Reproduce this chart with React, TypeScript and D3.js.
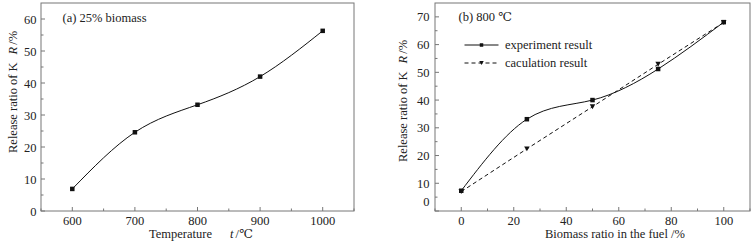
import React from "react";
import * as d3 from "d3";

const tempCategories = [600, 700, 800, 900, 1000];
const tempRelease = [6.9, 24.6, 33.2, 42.0, 56.3];

const ratioCategories = [0, 25, 50, 75, 100];
const experimentRelease = [7.3, 33.1, 40.0, 51.2, 68.1];
const calculationRelease = [7.0, 22.4, 37.6, 52.9, 68.0];

const leftXTicks = [600, 700, 800, 900, 1000];
const leftYTicks = [0, 10, 20, 30, 40, 50, 60];
const rightXTicks = [0, 20, 40, 60, 80, 100];
const rightYTicks = [0, 10, 20, 30, 40, 50, 60, 70];

const FONT = "Liberation Serif, Times New Roman, DejaVu Serif, serif";
const FS = 12.5;
const FRAME = "#777";
const TXT = "#222";

type Pt = [number, number];

function Square({ x, y, s = 4.5 }: { x: number; y: number; s?: number }) {
  return <rect x={x - s / 2} y={y - s / 2} width={s} height={s} fill="#111" />;
}
function TriDown({ x, y, s = 5.5 }: { x: number; y: number; s?: number }) {
  const h = s * 0.9;
  return (
    <path
      d={`M${x - s / 2},${y - h / 2}L${x + s / 2},${y - h / 2}L${x},${y + h / 2}Z`}
      fill="#111"
    />
  );
}

function Frame({
  x0, x1, y0, y1,
}: { x0: number; x1: number; y0: number; y1: number }) {
  return (
    <rect x={x0} y={y0} width={x1 - x0} height={y1 - y0} fill="none" stroke={FRAME} strokeWidth={1} />
  );
}

export default function App() {
  // Left panel
  const L = { x0: 41, x1: 354, y0: 3, y1: 211 };
  const lx = d3.scaleLinear().domain([550, 1050]).range([L.x0, L.x1]);
  const ly = d3.scaleLinear().domain([0, 65]).range([L.y1, L.y0]);
  const lMinorX = d3.range(550, 1051, 50).filter((v) => v % 100 !== 0);
  const lMinorY = d3.range(5, 65, 10);

  const natural = d3.line<Pt>().x((d) => d[0]).y((d) => d[1]).curve(d3.curveNatural);
  const linear = d3.line<Pt>().x((d) => d[0]).y((d) => d[1]);

  const leftPts: Pt[] = tempCategories.map((c, i) => [lx(c), ly(tempRelease[i])]);

  // Right panel
  const R = { x0: 435, x1: 750, y0: 3, y1: 211 };
  const rx = d3.scaleLinear().domain([-10, 110]).range([R.x0, R.x1]);
  const ry = d3.scaleLinear().domain([0, 75]).range([R.y1, R.y0]);
  const rMinorX = d3.range(-10, 111, 20);
  const rMinorY = d3.range(5, 75, 10);

  const expPts: Pt[] = ratioCategories.map((c, i) => [rx(c), ry(experimentRelease[i])]);
  const calPts: Pt[] = ratioCategories.map((c, i) => [rx(c), ry(calculationRelease[i])]);

  const tickLen = 4;
  const minorLen = 2.5;

  return (
    <svg width={756} height={244}
      style={{ position: "absolute", left: 0, top: 0, background: "#fff", fontFamily: FONT, fontSize: FS }}>
      {/* LEFT PANEL */}
      <Frame {...L} />
      {leftXTicks.map((t) => (
        <g key={"lxt" + t}>
          <line x1={lx(t)} x2={lx(t)} y1={L.y1} y2={L.y1 - tickLen} stroke={FRAME} />
          <text x={lx(t)} y={224.5} textAnchor="middle" fill={TXT}>{t}</text>
        </g>
      ))}
      {lMinorX.map((t) => (
        <line key={"lmx" + t} x1={lx(t)} x2={lx(t)} y1={L.y1} y2={L.y1 - minorLen} stroke={FRAME} />
      ))}
      {leftYTicks.map((t) => (
        <g key={"lyt" + t}>
          <line x1={L.x0} x2={L.x0 + tickLen} y1={ly(t)} y2={ly(t)} stroke={FRAME} />
          <text x={36.5} y={ly(t)} dy="0.36em" textAnchor="end" fill={TXT}>{t}</text>
        </g>
      ))}
      {lMinorY.map((t) => (
        <line key={"lmy" + t} x1={L.x0} x2={L.x0 + minorLen} y1={ly(t)} y2={ly(t)} stroke={FRAME} />
      ))}
      <path d={natural(leftPts) || ""} fill="none" stroke="#111" strokeWidth={1} />
      {leftPts.map((p, i) => <Square key={"ls" + i} x={p[0]} y={p[1]} />)}
      <text x={62.5} y={21.5} fill={TXT}>(a) 25% biomass</text>
      <text x={149} y={238} fill={TXT}>
        Temperature
        <tspan dx={18} fontStyle="italic">t</tspan>
        <tspan dx={2}>/℃</tspan>
      </text>
      <text transform={`translate(16.5,153) rotate(-90)`} fill={TXT}>
        Release ratio of K
        <tspan dx={8} fontStyle="italic">R</tspan>
        <tspan dx={2}>/%</tspan>
      </text>

      {/* RIGHT PANEL */}
      <Frame {...R} />
      {rightXTicks.map((t) => (
        <g key={"rxt" + t}>
          <line x1={rx(t)} x2={rx(t)} y1={R.y1} y2={R.y1 - tickLen} stroke={FRAME} />
          <text x={rx(t)} y={224.5} textAnchor="middle" fill={TXT}>{t}</text>
        </g>
      ))}
      {rMinorX.map((t) => (
        <line key={"rmx" + t} x1={rx(t)} x2={rx(t)} y1={R.y1} y2={R.y1 - minorLen} stroke={FRAME} />
      ))}
      {rightYTicks.map((t) => (
        <g key={"ryt" + t}>
          <line x1={R.x0} x2={R.x0 + tickLen} y1={ry(t)} y2={ry(t)} stroke={FRAME} />
          <text x={429.5} y={t === 0 ? ry(t) - 9.5 : ry(t)} dy="0.36em" textAnchor="end" fill={TXT}>{t}</text>
        </g>
      ))}
      {rMinorY.map((t) => (
        <line key={"rmy" + t} x1={R.x0} x2={R.x0 + minorLen} y1={ry(t)} y2={ry(t)} stroke={FRAME} />
      ))}
      <path d={linear(calPts) || ""} fill="none" stroke="#111" strokeWidth={1} strokeDasharray="4,3" />
      <path d={natural(expPts) || ""} fill="none" stroke="#111" strokeWidth={1} />
      {calPts.map((p, i) => <TriDown key={"rt" + i} x={p[0]} y={p[1]} />)}
      {expPts.map((p, i) => <Square key={"rs" + i} x={p[0]} y={p[1]} />)}
      <text x={458.5} y={21} fill={TXT}>(b) 800 ℃</text>

      {/* legend */}
      <line x1={464.5} x2={498.5} y1={45} y2={45} stroke="#111" />
      <Square x={481.5} y={45} s={3.5} />
      <text x={505} y={49} fill={TXT}>experiment result</text>
      <line x1={464.5} x2={498.5} y1={63} y2={63} stroke="#111" strokeDasharray="4,3" />
      <TriDown x={481.5} y={63} s={4.5} />
      <text x={505} y={67} fill={TXT}>caculation result</text>

      <text x={545} y={238} fill={TXT}>Biomass ratio in the fuel /%</text>
      <text transform={`translate(407,162) rotate(-90)`} fill={TXT}>
        Release ratio of K
        <tspan dx={8} fontStyle="italic">R</tspan>
        <tspan dx={2}>/%</tspan>
      </text>
    </svg>
  );
}
